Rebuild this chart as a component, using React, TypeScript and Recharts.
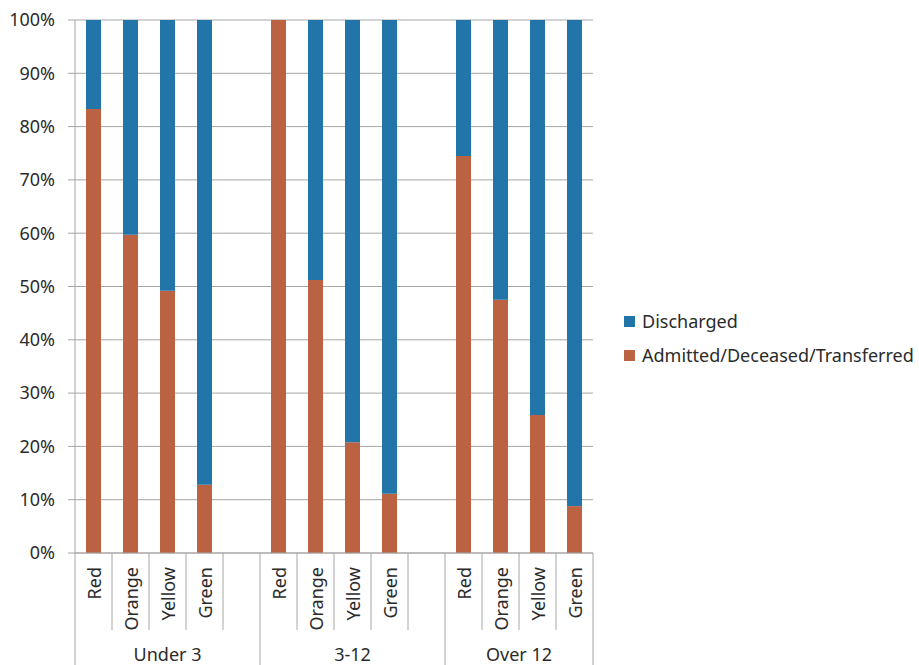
import React from 'react';
import { BarChart, Bar, XAxis, YAxis, CartesianGrid, Legend } from 'recharts';

const groups = ['Under 3', '3-12', 'Over 12'];
const categories = ['Red', 'Orange', 'Yellow', 'Green', '', 'Red', 'Orange', 'Yellow', 'Green', '', 'Red', 'Orange', 'Yellow', 'Green'];
const categoryGroup = [0, 0, 0, 0, 0, 1, 1, 1, 1, 1, 2, 2, 2, 2];
const admitted = [83.3, 59.7, 49.2, 12.8, null, 100, 51.2, 20.8, 11.1, null, 74.5, 47.5, 25.9, 8.8];
const discharged = [16.7, 40.3, 50.8, 87.2, null, 0, 48.8, 79.2, 88.9, null, 25.5, 52.5, 74.1, 91.2];
const yTicks = [0, 10, 20, 30, 40, 50, 60, 70, 80, 90, 100];
const seriesNames = ['Discharged', 'Admitted/Deceased/Transferred'];

const data = categories.map((c, i) => ({
  cat: c,
  group: groups[categoryGroup[i]],
  admitted: admitted[i],
  discharged: discharged[i],
}));

const W = 919;
const H = 665;
const PLOT_LEFT = 75;
const PLOT_RIGHT = 593;
const AXIS_Y = 553;
const SLOT = (PLOT_RIGHT - PLOT_LEFT) / categories.length;
const FONT = '"Noto Sans", sans-serif';
const FS = 18;
const TEXT = '#2b2b2b';
const LINE = '#A6A6A6';
const BLUE = '#2275A8';
const ORANGE = '#BA6241';

function CatTick(props: any) {
  const { x, payload } = props;
  const i = payload.index;
  const left = x - SLOT / 2;
  const isGroupStart = i === 0 || categoryGroup[i] !== categoryGroup[i - 1];
  const parts: any[] = [];
  parts.push(
    <line key="l" x1={left} x2={left} y1={AXIS_Y} y2={isGroupStart ? H : 630} stroke={LINE} strokeWidth={1} />
  );
  if (i === categories.length - 1) {
    parts.push(<line key="r" x1={x + SLOT / 2} x2={x + SLOT / 2} y1={AXIS_Y} y2={H} stroke={LINE} strokeWidth={1} />);
  }
  const ty = AXIS_Y + 14;
  parts.push(
    <text
      key="t"
      x={x}
      y={ty}
      transform={`rotate(-90, ${x}, ${ty})`}
      textAnchor="end"
      dominantBaseline="central"
      fontSize={FS}
      fontFamily={FONT}
      fill={TEXT}
    >
      {categories[i]}
    </text>
  );
  if (isGroupStart) {
    const g = categoryGroup[i];
    const size = categoryGroup.filter((v) => v === g).length;
    parts.push(
      <text key="g" x={left + (size * SLOT) / 2} y={661} textAnchor="middle" fontSize={FS} fontFamily={FONT} fill={TEXT}>
        {groups[g]}
      </text>
    );
  }
  return <g>{parts}</g>;
}

function LegendContent() {
  const colors = [BLUE, ORANGE];
  return (
    <div style={{ fontFamily: FONT, fontSize: FS, color: TEXT }}>
      {seriesNames.map((n, k) => (
        <div key={n} style={{ display: 'flex', alignItems: 'center', height: 34, whiteSpace: 'nowrap' }}>
          <span style={{ display: 'inline-block', width: 11, height: 11, background: colors[k], marginRight: 7 }} />
          <span>{n}</span>
        </div>
      ))}
    </div>
  );
}

export default function App() {
  return (
    <div style={{ position: 'absolute', left: 0, top: 0, width: W, height: H, background: '#fff' }}>
      <BarChart width={W} height={H} data={data} margin={{ top: 20, right: W - PLOT_RIGHT, bottom: 0, left: 0 }}>
        <CartesianGrid vertical={false} stroke={LINE} strokeWidth={1} />
        <XAxis
          dataKey="cat"
          interval={0}
          height={H - AXIS_Y}
          tickLine={false}
          axisLine={{ stroke: LINE }}
          tick={<CatTick />}
        />
        <YAxis
          width={PLOT_LEFT}
          domain={[0, 100]}
          ticks={yTicks}
          tickFormatter={(v: number) => `${v}%`}
          axisLine={{ stroke: LINE }}
          tickLine={{ stroke: LINE }}
          tickSize={7}
          tickMargin={13}
          tick={{ fontSize: FS, fontFamily: FONT, fill: TEXT }}
          allowDataOverflow
        />
        <Legend
          layout="horizontal"
          verticalAlign="middle"
          align="center"
          width={295}
          wrapperStyle={{ left: 624, top: 304 }}
          content={<LegendContent />}
        />
        <Bar dataKey="admitted" name={seriesNames[1]} stackId="a" fill={ORANGE} barSize={15} isAnimationActive={false} />
        <Bar dataKey="discharged" name={seriesNames[0]} stackId="a" fill={BLUE} barSize={15} isAnimationActive={false} />
      </BarChart>
    </div>
  );
}
